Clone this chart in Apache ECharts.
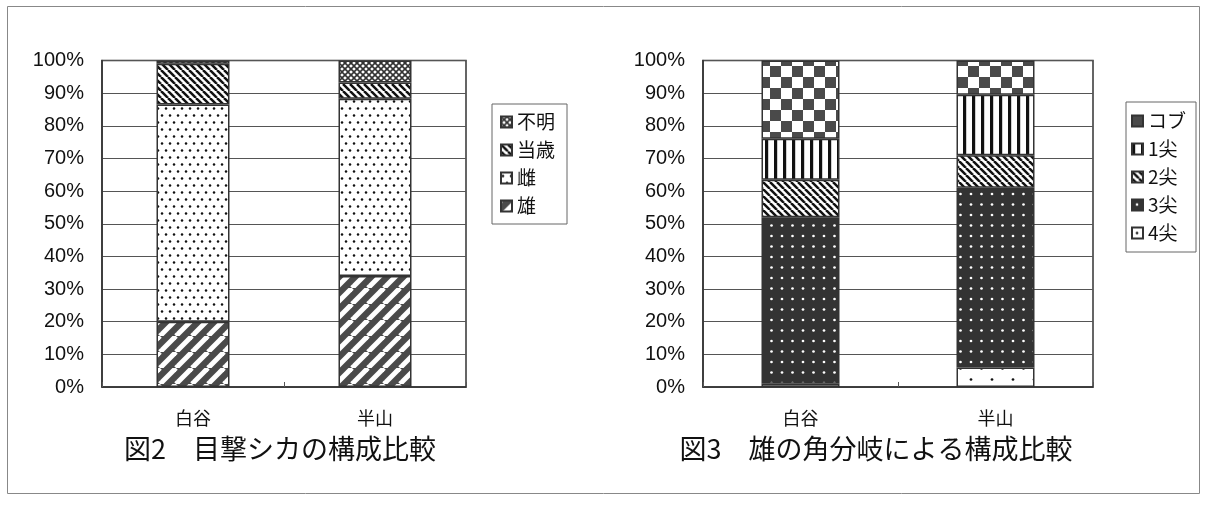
<!DOCTYPE html>
<html>
<head>
<meta charset="utf-8">
<script src="https://cdn.jsdelivr.net/npm/echarts@6/dist/echarts.min.js"></script>
<style>
  html, body { margin: 0; padding: 0; background: #fff; }
  #chart { width: 1206px; height: 510px; }
</style>
</head>
<body>
<div id="chart"></div>
<script>
// ---- data ----
const categories = ['白谷', '半山'];
const yTickLabels = ['0%', '10%', '20%', '30%', '40%', '50%', '60%', '70%', '80%', '90%', '100%'];

// 図2 目撃シカの構成比較 (percent, bottom to top)
const fig2Names = ['雄', '雌', '当歳', '不明'];
const fig2Male = [20, 34];
const fig2Female = [66.5, 54.3];
const fig2Yearling = [12.5, 5];
const fig2Unknown = [1, 6.7];

// 図3 雄の角分岐による構成比較 (percent, bottom to top)
const fig3Names = ['4尖', '3尖', '2尖', '1尖', 'コブ'];
const fig3Tine4 = [1, 6];
const fig3Tine3 = [51, 55];
const fig3Tine2 = [11.5, 10];
const fig3Tine1 = [12.5, 18.5];
const fig3Spike = [24, 10.5];

const title2 = '図2　目撃シカの構成比較';
const title3 = '図3　雄の角分岐による構成比較';

// ---- patterns ----
function tile(w, h, draw) {
  const c = document.createElement('canvas');
  c.width = w; c.height = h;
  const g = c.getContext('2d');
  draw(g, w, h);
  return { image: c, repeat: 'repeat' };
}
function dots(g, pts, r, color) {
  g.fillStyle = color;
  pts.forEach(p => { g.beginPath(); g.arc(p[0], p[1], r, 0, Math.PI * 2); g.fill(); });
}
const patMale = tile(16, 16, (g, w, h) => {
  g.fillStyle = '#4a4a4a'; g.fillRect(0, 0, w, h);
  g.strokeStyle = '#fff'; g.lineWidth = 5;
  [-16, 0, 16].forEach(k => { g.beginPath(); g.moveTo(k, 16); g.lineTo(k + 16, 0); g.stroke(); });
});
const patFemale = tile(8, 14, (g, w, h) => {
  g.fillStyle = '#fff'; g.fillRect(0, 0, w, h);
  dots(g, [[2, 3.5], [6, 10.5]], 1.25, '#111');
});
const patBack7 = tile(7, 7, (g, w, h) => {
  g.fillStyle = '#fff'; g.fillRect(0, 0, w, h);
  g.strokeStyle = '#111'; g.lineWidth = 2.5;
  [-7, 0, 7].forEach(k => { g.beginPath(); g.moveTo(k, 0); g.lineTo(k + 7, 7); g.stroke(); });
});
const patUnknown = tile(6, 6, (g, w, h) => {
  g.fillStyle = '#fff'; g.fillRect(0, 0, w, h);
  g.strokeStyle = '#333'; g.lineWidth = 1.6;
  g.beginPath(); g.moveTo(0, 0); g.lineTo(6, 6); g.stroke();
  g.beginPath(); g.moveTo(6, 0); g.lineTo(0, 6); g.stroke();
});
const patChecker = tile(22, 22, (g, w, h) => {
  g.fillStyle = '#fff'; g.fillRect(0, 0, w, h);
  g.fillStyle = '#4a4a4a'; g.fillRect(0, 0, 11, 11); g.fillRect(11, 11, 11, 11);
});
const patVert = tile(9, 2, (g, w, h) => {
  g.fillStyle = '#fff'; g.fillRect(0, 0, w, h);
  g.fillStyle = '#111'; g.fillRect(0, 0, 3.2, h);
});
const patDarkDots = tile(21, 21, (g, w, h) => {
  g.fillStyle = '#333'; g.fillRect(0, 0, w, h);
  dots(g, [[5, 5], [15.5, 5], [5, 15.5], [15.5, 15.5]], 1.35, '#fff');
});
const patSparse = tile(21, 22, (g, w, h) => {
  g.fillStyle = '#fff'; g.fillRect(0, 0, w, h);
  dots(g, [[5, 5.5], [15.5, 16.5]], 1.35, '#111');
});

// ---- chart ----
const cjk = '"Noto Sans CJK JP", sans-serif';
const latin = '"Liberation Sans", Arial, sans-serif';
const chart = echarts.init(document.getElementById('chart'));

function xAxisFor(gi) {
  return {
    type: 'category', gridIndex: gi, data: categories,
    axisLine: { lineStyle: { color: '#333', width: 1.5 } },
    axisTick: { show: true, inside: true, length: 5, lineStyle: { color: '#555' } },
    axisLabel: { fontFamily: cjk, fontSize: 18, color: '#111', margin: 22 }
  };
}
function yAxisFor(gi) {
  return {
    type: 'value', gridIndex: gi, min: 0, max: 100, interval: 10,
    axisLine: { show: true, lineStyle: { color: '#333', width: 1.5 } },
    axisTick: { show: false },
    axisLabel: {
      fontFamily: latin, fontSize: 20, color: '#111', margin: 18,
      formatter: (v) => yTickLabels[Math.round(v / 10)]
    },
    splitLine: { show: true, lineStyle: { color: '#555', width: 1 } }
  };
}
const border = { borderColor: '#333', borderWidth: 1.5 };
function bar(name, data, pattern, xi, barWidth) {
  return {
    name, type: 'bar', data, xAxisIndex: xi, yAxisIndex: xi,
    stack: 'fig' + xi, barWidth,
    itemStyle: Object.assign({ color: pattern }, border)
  };
}

const legendText = { fontFamily: cjk, fontSize: 19, color: '#111', lineHeight: 20 };

chart.setOption({
  animation: false,
  backgroundColor: '#fff',
  grid: [
    { left: 102, top: 60.5, width: 364, height: 326.5, show: true, borderColor: '#333', borderWidth: 1.5 },
    { left: 703, top: 60.5, width: 390, height: 326.5, show: true, borderColor: '#333', borderWidth: 1.5 }
  ],
  xAxis: [xAxisFor(0), xAxisFor(1)],
  yAxis: [yAxisFor(0), yAxisFor(1)],
  legend: [
    {
      data: ['不明', '当歳', '雌', '雄'],
      orient: 'vertical', left: 492, top: 104, icon: 'rect',
      itemWidth: 11, itemHeight: 11, itemGap: 8,
      padding: [8, 12, 8, 8],
      borderColor: '#666', borderWidth: 1,
      textStyle: legendText
    },
    {
      data: ['コブ', '1尖', '2尖', '3尖', '4尖'],
      orient: 'vertical', left: 1126, top: 102, icon: 'rect',
      itemWidth: 11, itemHeight: 11, itemGap: 8,
      padding: [9, 10, 9, 5],
      borderColor: '#666', borderWidth: 1,
      textStyle: legendText
    }
  ],
  series: [
    bar(fig2Names[0], fig2Male, patMale, 0, 73),
    bar(fig2Names[1], fig2Female, patFemale, 0, 73),
    bar(fig2Names[2], fig2Yearling, patBack7, 0, 73),
    bar(fig2Names[3], fig2Unknown, patUnknown, 0, 73),
    bar(fig3Names[0], fig3Tine4, patSparse, 1, 78),
    bar(fig3Names[1], fig3Tine3, patDarkDots, 1, 78),
    bar(fig3Names[2], fig3Tine2, patBack7, 1, 78),
    bar(fig3Names[3], fig3Tine1, patVert, 1, 78),
    bar(fig3Names[4], fig3Spike, patChecker, 1, 78)
  ],
  graphic: [
    { type: 'rect', shape: { x: 7.5, y: 6.5, width: 1192, height: 487 },
      style: { fill: 'none', stroke: '#888', lineWidth: 1 }, silent: true },
    { type: 'text', x: 280, y: 449,
      style: { text: title2, fontFamily: cjk, fontSize: 27, fill: '#111', textAlign: 'center', textVerticalAlign: 'middle' } },
    { type: 'text', x: 876, y: 449,
      style: { text: title3, fontFamily: cjk, fontSize: 27, fill: '#111', textAlign: 'center', textVerticalAlign: 'middle' } }
  ]
});
</script>
</body>
</html>
